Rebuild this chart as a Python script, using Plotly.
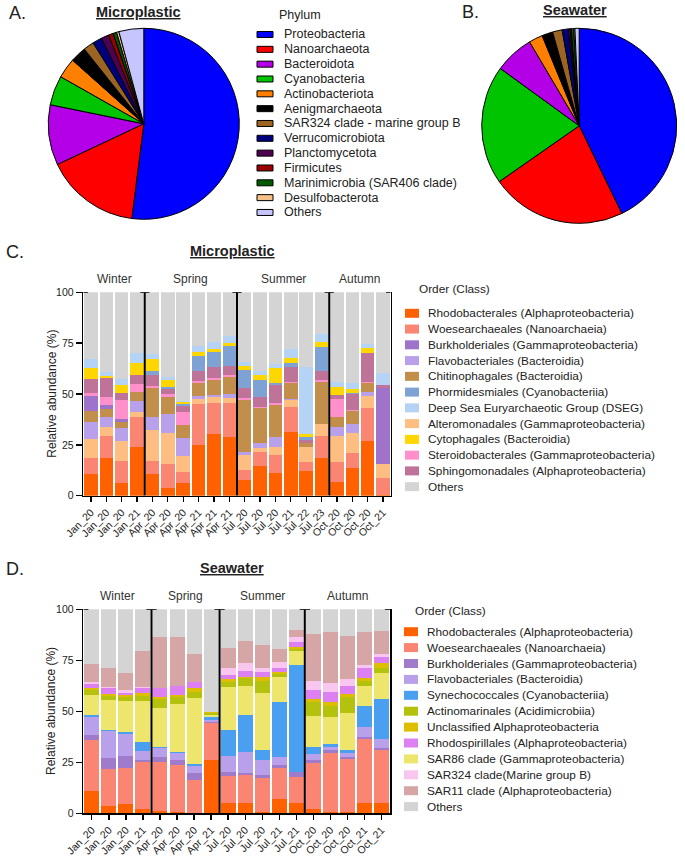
import plotly.graph_objects as go

W, H = 685, 866
FONT = "Liberation Sans, Arial, sans-serif"

# ---------------- Panel A/B: phylum pies ----------------
phyla = ["Proteobacteria", "Nanoarchaeota", "Bacteroidota", "Cyanobacteria",
         "Actinobacteriota", "Aenigmarchaeota", "SAR324 clade - marine group B",
         "Verrucomicrobiota", "Planctomycetota", "Firmicutes",
         "Marinimicrobia (SAR406 clade)", "Desulfobacterota", "Others"]
phylum_colors = ["#0000FF", "#FF0000", "#B400E6", "#00C400", "#FF8000", "#000000",
                 "#9C6422", "#00007F", "#4F0050", "#990000", "#005A00", "#F5C08A", "#C6C6FF"]
pie_microplastic = [52.0, 16.0, 10.2, 5.0, 3.4, 2.7, 1.8, 1.6, 1.3, 0.8, 0.6, 0.4, 4.2]
pie_seawater = [42.8, 22.5, 6.5, 19.7, 2.3, 1.8, 1.6, 1.0, 0.3, 0.2, 0.4, 0.2, 0.7]
# slice order (clockwise from 12 o'clock) used in the seawater pie
seawater_slice_order = ["Proteobacteria", "Nanoarchaeota", "Cyanobacteria", "Bacteroidota",
                        "Actinobacteriota", "Aenigmarchaeota", "SAR324 clade - marine group B",
                        "Verrucomicrobiota", "Planctomycetota", "Firmicutes",
                        "Marinimicrobia (SAR406 clade)", "Desulfobacterota", "Others"]

# ---------------- Panel C: microplastic orders ----------------
seasons = ["Winter", "Spring", "Summer", "Autumn"]
mp_samples = ["Jan_20", "Jan_20", "Jan_20", "Jan_21",
              "Apr_20", "Apr_20", "Apr_20", "Apr_21", "Apr_21", "Apr_21",
              "Jul_20", "Jul_20", "Jul_20", "Jul_21", "Jul_22", "Jul_23",
              "Oct_20", "Oct_20", "Oct_20", "Oct_21"]
mp_season_counts = [4, 6, 6, 4]

mp_rhodobacterales = [10.7, 18.4, 6.0, 23.8, 10.5, 3.9, 6.4, 24.8, 30.2, 28.7, 7.7, 14.8, 11.3, 31.5, 12.3, 18.7, 6.9, 13.4, 27.0, 0.3]
mp_woesearchaeales = [7.7, 10.9, 11.2, 15.1, 6.7, 11.5, 5.1, 20.2, 15.2, 17.0, 4.9, 6.8, 8.7, 12.3, 4.4, 10.8, 9.8, 7.4, 15.9, 8.2]
mp_alteromonadales = [9.6, 4.3, 9.8, 2.1, 15.1, 15.3, 8.2, 2.5, 3.3, 2.5, 7.4, 1.7, 3.8, 3.2, 7.1, 5.7, 12.6, 9.9, 6.3, 7.1]
mp_flavobacteriales = [8.0, 4.9, 6.4, 5.6, 6.6, 9.5, 8.5, 1.5, 0.8, 1.6, 1.6, 2.8, 5.2, 0.4, 0.0, 0.0, 4.6, 4.4, 1.9, 0.0]
mp_chitinophagales = [5.8, 4.0, 3.0, 4.2, 13.9, 8.5, 6.6, 6.5, 7.4, 8.7, 25.4, 16.9, 15.6, 7.8, 2.2, 20.8, 5.0, 6.7, 4.1, 0.0]
mp_burkholderiales = [7.2, 2.1, 1.1, 0.0, 0.0, 0.0, 0.0, 0.0, 0.0, 0.0, 0.0, 0.0, 0.0, 0.0, 0.0, 0.0, 0.0, 0.0, 0.0, 37.2]
mp_steroidobacterales = [1.5, 4.1, 9.5, 4.0, 1.1, 1.3, 6.2, 1.0, 0.8, 0.8, 0.9, 0.8, 1.1, 0.8, 0.0, 0.9, 8.6, 0.5, 0.8, 0.0]
mp_sphingomonadales = [6.9, 9.0, 3.3, 4.5, 5.4, 2.3, 3.3, 5.0, 5.7, 4.5, 4.9, 4.9, 8.7, 7.4, 1.4, 4.4, 2.0, 7.7, 14.3, 1.6]
mp_phormidesmiales = [0.0, 0.0, 0.0, 0.0, 2.2, 1.3, 0.6, 7.0, 7.4, 9.8, 9.0, 8.2, 1.2, 1.7, 1.3, 12.0, 0.0, 0.5, 0.0, 0.0]
mp_cytophagales = [5.2, 1.2, 4.1, 5.8, 5.5, 3.3, 1.0, 2.0, 1.3, 1.3, 2.1, 2.4, 7.0, 2.4, 1.5, 2.1, 3.8, 1.8, 2.2, 0.0]
mp_dseg = [4.6, 1.8, 3.0, 4.9, 2.5, 1.6, 0.8, 3.0, 3.3, 3.8, 2.0, 2.2, 2.0, 4.5, 32.9, 4.1, 2.8, 2.9, 1.9, 5.8]
mp_others = [32.8, 39.3, 42.6, 30.0, 30.5, 41.5, 53.3, 26.5, 24.6, 21.3, 34.1, 38.5, 35.4, 28.0, 36.9, 20.5, 43.9, 44.8, 25.6, 39.8]

mp_legend = ["Rhodobacterales (Alphaproteobacteria)", "Woesearchaeales (Nanoarchaeia)",
             "Burkholderiales (Gammaproteobacteria)", "Flavobacteriales (Bacteroidia)",
             "Chitinophagales (Bacteroidia)", "Phormidesmiales (Cyanobacteriia)",
             "Deep Sea Euryarchaeotic Group (DSEG)", "Alteromonadales (Gammaproteobacteria)",
             "Cytophagales (Bacteroidia)", "Steroidobacterales (Gammaproteobacteria)",
             "Sphingomonadales (Alphaproteobacteria)", "Others"]
mp_colors = ["#FF6000", "#FA8573", "#9E73C9", "#B9A0EB", "#C18E4C", "#7FA2D4",
             "#B5D3F5", "#FEBE82", "#FFD600", "#FF90CC", "#BF7398", "#D4D4D4"]
mp_values = [mp_rhodobacterales, mp_woesearchaeales, mp_burkholderiales, mp_flavobacteriales,
             mp_chitinophagales, mp_phormidesmiales, mp_dseg, mp_alteromonadales,
             mp_cytophagales, mp_steroidobacterales, mp_sphingomonadales, mp_others]
# stacking order bottom -> top (indices into legend list)
mp_stack = [0, 1, 7, 3, 4, 2, 9, 10, 5, 8, 6, 11]

# ---------------- Panel D: seawater orders ----------------
sw_samples = ["Jan_20", "Jan_20", "Jan_20", "Jan_21",
              "Apr_20", "Apr_20", "Apr_20", "Apr_21",
              "Jul_20", "Jul_20", "Jul_20", "Jul_21", "Jul_21",
              "Oct_20", "Oct_20", "Oct_20", "Oct_21", "Oct_21"]
sw_season_counts = [4, 4, 5, 5]

sw_rhodobacterales = [11.0, 3.8, 4.4, 2.1, 1.1, 0.5, 0.0, 26.1, 5.2, 4.9, 0.5, 6.9, 5.2, 2.0, 0.8, 0.5, 5.2, 5.2]
sw_woesearchaeales = [25.0, 17.8, 17.6, 23.2, 24.2, 23.2, 16.3, 18.0, 13.1, 13.9, 16.7, 15.2, 12.8, 22.5, 28.9, 26.0, 31.2, 25.8]
sw_burkholderiales = [2.4, 5.7, 6.3, 0.8, 2.2, 2.4, 3.3, 0.8, 2.1, 1.1, 1.6, 1.6, 2.4, 1.6, 1.3, 1.3, 1.1, 1.0]
sw_flavobacteriales = [9.0, 13.1, 10.6, 4.6, 4.4, 3.3, 3.6, 0.9, 7.7, 10.3, 7.3, 3.8, 0.0, 3.0, 1.7, 1.6, 5.0, 4.3]
sw_synechococcales = [1.0, 0.4, 0.8, 4.4, 0.5, 0.5, 0.8, 1.3, 12.7, 18.0, 4.9, 26.9, 52.3, 3.6, 1.1, 1.6, 10.1, 19.7]
sw_sar86 = [9.6, 14.8, 15.5, 20.1, 19.4, 23.7, 32.4, 1.1, 21.3, 14.2, 28.2, 12.3, 6.9, 15.0, 13.6, 18.0, 9.8, 12.6]
sw_actinomarinales = [2.5, 1.9, 2.0, 2.3, 4.2, 3.3, 3.2, 0.8, 2.4, 3.8, 5.8, 1.4, 1.0, 7.0, 5.2, 8.2, 2.6, 2.8]
sw_unclassified_alpha = [0.8, 0.8, 0.8, 1.3, 1.2, 1.1, 1.7, 0.5, 1.2, 0.8, 2.0, 1.3, 1.1, 1.2, 2.1, 1.3, 1.2, 2.1]
sw_rhodospirillales = [1.9, 3.0, 1.2, 2.5, 4.1, 4.4, 2.9, 0.0, 2.1, 2.9, 2.4, 1.7, 2.5, 4.6, 4.9, 3.9, 4.9, 3.0]
sw_sar324 = [1.2, 0.5, 1.3, 0.8, 0.2, 0.2, 0.3, 0.0, 3.3, 3.6, 2.0, 3.2, 2.1, 4.5, 4.1, 3.3, 1.6, 1.6]
sw_sar11 = [8.6, 9.3, 8.1, 17.5, 24.8, 24.0, 13.6, 0.0, 9.8, 11.0, 11.1, 6.1, 3.6, 22.9, 25.4, 21.2, 16.4, 11.4]
sw_others = [27.0, 28.9, 31.4, 20.4, 13.7, 13.4, 21.9, 50.5, 19.1, 15.5, 17.5, 19.6, 10.1, 12.1, 10.9, 13.1, 10.9, 10.5]

sw_legend = ["Rhodobacterales (Alphaproteobacteria)", "Woesearchaeales (Nanoarchaeia)",
             "Burkholderiales (Gammaproteobacteria)", "Flavobacteriales (Bacteroidia)",
             "Synechococcales (Cyanobacteriia)", "Actinomarinales (Acidimicrobiia)",
             "Unclassified Alphaproteobacteria", "Rhodospirillales (Alphaproteobacteria)",
             "SAR86 clade (Gammaproteobacteria)", "SAR324 clade(Marine group B)",
             "SAR11 clade (Alphaproteobacteria)", "Others"]
sw_colors = ["#FF6000", "#FA8573", "#A07ACB", "#B9A0EB", "#4B9FF0", "#B4C20E",
             "#DDBE00", "#DD80F2", "#EEE66C", "#F8C6EE", "#D6A6A6", "#D4D4D4"]
sw_values = [sw_rhodobacterales, sw_woesearchaeales, sw_burkholderiales, sw_flavobacteriales,
             sw_synechococcales, sw_actinomarinales, sw_unclassified_alpha, sw_rhodospirillales,
             sw_sar86, sw_sar324, sw_sar11, sw_others]
sw_stack = [0, 1, 2, 3, 4, 8, 5, 6, 7, 9, 10, 11]


def px(x):
    return x / W


def py(y):
    return 1 - y / H


fig = go.Figure()

# Pies
fig.add_trace(go.Pie(labels=phyla, values=pie_microplastic, sort=False, direction="clockwise",
                     rotation=0, textinfo="none", showlegend=False, automargin=False,
                     marker=dict(colors=phylum_colors, line=dict(color="black", width=1)),
                     domain=dict(x=[px(48.3), px(239.3)], y=[py(219.3), py(28.3)])))
sw_lookup = dict(zip(phyla, pie_seawater))
col_lookup = dict(zip(phyla, phylum_colors))
fig.add_trace(go.Pie(labels=seawater_slice_order,
                     values=[sw_lookup[p] for p in seawater_slice_order],
                     sort=False, direction="clockwise",
                     rotation=0, textinfo="none", showlegend=False, automargin=False,
                     marker=dict(colors=[col_lookup[p] for p in seawater_slice_order],
                                 line=dict(color="black", width=1)),
                     domain=dict(x=[px(481.7), px(676.7)], y=[py(223.3), py(28.3)])))

# Stacked bars
for k in mp_stack:
    fig.add_trace(go.Bar(x=list(range(len(mp_samples))), y=mp_values[k], name=mp_legend[k],
                         marker=dict(color=mp_colors[k], line=dict(width=0)),
                         xaxis="x", yaxis="y", showlegend=False))
for k in sw_stack:
    fig.add_trace(go.Bar(x=list(range(len(sw_samples))), y=sw_values[k], name=sw_legend[k],
                         marker=dict(color=sw_colors[k], line=dict(width=0)),
                         xaxis="x2", yaxis="y2", showlegend=False))

axis_font = dict(family=FONT, size=10.5, color="#222")


def xaxis_cfg(samples, dom, anchor):
    return dict(domain=dom, anchor=anchor, range=[-0.5, len(samples) - 0.5], tickmode="array",
                tickvals=list(range(len(samples))), ticktext=samples, tickangle=-45,
                ticks="outside", ticklen=5, tickwidth=1.3, tickcolor="black",
                showline=True, linecolor="black", linewidth=1.6, showgrid=False,
                zeroline=False, tickfont=axis_font, automargin=False)


def yaxis_cfg(anchor, dom):
    return dict(domain=dom, anchor=anchor, range=[0, 100], tickvals=[0, 25, 50, 75, 100],
                ticks="outside", ticklen=6, tickwidth=1.3, tickcolor="black",
                showline=True, mirror=True, linecolor="black", linewidth=1.6,
                showgrid=False, zeroline=False, tickfont=axis_font, automargin=False)


layout_shapes = []
annotations = []

# y-axis titles
for ytop, ybot in [(292.3, 495.7), (609.3, 813.3)]:
    annotations.append(dict(text="Relative abundance (%)", xref="paper", yref="paper",
                            x=px(51.7), y=py((ytop + ybot) / 2), textangle=-90, showarrow=False,
                            xanchor="center", yanchor="middle",
                            font=dict(family=FONT, size=12, color="#222")))

# Season separators (with small caps at the top) and season labels
SERIF = 0.3
for xa, ya, counts, ylab in [("x", "y", mp_season_counts, 278.5), ("x2", "y2", sw_season_counts, 596)]:
    start = 0
    total = sum(counts)
    layout_shapes.append(dict(type="line", xref=xa, yref=ya, x0=-0.5, x1=-0.5 + SERIF,
                              y0=100, y1=100, line=dict(color="black", width=1.6)))
    layout_shapes.append(dict(type="line", xref=xa, yref=ya, x0=total - 0.5 - SERIF,
                              x1=total - 0.5, y0=100, y1=100, line=dict(color="black", width=1.6)))
    for i, (s, n) in enumerate(zip(seasons, counts)):
        if i > 0:
            xb = start - 0.5
            layout_shapes.append(dict(type="line", xref=xa, yref=ya, x0=xb, x1=xb,
                                      y0=0, y1=100, line=dict(color="black", width=2)))
            layout_shapes.append(dict(type="line", xref=xa, yref=ya, x0=xb - SERIF, x1=xb + SERIF,
                                      y0=100, y1=100, line=dict(color="black", width=1.6)))
        annotations.append(dict(text=s, xref=xa, yref="paper", x=start + (n - 1) / 2, y=py(ylab),
                                showarrow=False, xanchor="center", yanchor="middle",
                                font=dict(family=FONT, size=12, color="#333")))
        start += n

# Panel letters and titles
for txt, x, y in [("A.", 17, 13), ("B.", 470, 12), ("C.", 15, 252), ("D.", 15, 569)]:
    annotations.append(dict(text=txt, xref="paper", yref="paper", x=px(x), y=py(y), showarrow=False,
                            xanchor="center", yanchor="middle",
                            font=dict(family=FONT, size=18, color="#222")))
for txt, x, y in [("Microplastic", 138, 12), ("Seawater", 575, 10),
                  ("Microplastic", 232, 251), ("Seawater", 232, 568)]:
    annotations.append(dict(text="<b><u>" + txt + "</u></b>", xref="paper", yref="paper",
                            x=px(x), y=py(y), showarrow=False, xanchor="center", yanchor="middle",
                            font=dict(family=FONT, size=14.5, color="#222")))


def manual_legend(title, tx, ty, names, colors, sx0, sx1, sh, textx, y0, dy, size, outline):
    annotations.append(dict(text=title, xref="paper", yref="paper", x=px(tx), y=py(ty),
                            showarrow=False, xanchor="left", yanchor="middle",
                            font=dict(family=FONT, size=size, color="#222")))
    for i, (nm, c) in enumerate(zip(names, colors)):
        yc = y0 + i * dy
        layout_shapes.append(dict(type="rect", xref="paper", yref="paper",
                                  x0=px(sx0), x1=px(sx1), y0=py(yc + sh / 2), y1=py(yc - sh / 2),
                                  fillcolor=c,
                                  line=dict(color="black" if outline else c,
                                            width=1 if outline else 0)))
        annotations.append(dict(text=nm, xref="paper", yref="paper", x=px(textx), y=py(yc),
                                showarrow=False, xanchor="left", yanchor="middle",
                                font=dict(family=FONT, size=size, color="#222")))


manual_legend("Phylum", 277, 15, phyla, phylum_colors, 257, 273, 6, 282, 34.5, 14.83, 12.5, True)
manual_legend("Order (Class)", 417, 289, mp_legend, mp_colors, 405, 419, 9, 426, 313.3, 15.76, 11.8, False)
manual_legend("Order (Class)", 413, 611, sw_legend, sw_colors, 404, 418, 9, 425, 631.7, 15.9, 11.8, False)

fig.update_layout(
    template="none",
    width=W, height=H, margin=dict(l=0, r=0, t=0, b=0, pad=0, autoexpand=False),
    paper_bgcolor="white", plot_bgcolor="white",
    barmode="stack", bargap=0.12,
    font=dict(family=FONT, color="#222"),
    xaxis=xaxis_cfg(mp_samples, [px(83.3), px(390.7)], "y"),
    yaxis=yaxis_cfg("x", [py(495.7), py(292.3)]),
    xaxis2=xaxis_cfg(sw_samples, [px(83.3), px(390)], "y2"),
    yaxis2=yaxis_cfg("x2", [py(813.3), py(609.3)]),
    shapes=layout_shapes, annotations=annotations,
    showlegend=False,
)

# place the figure at the window's top-left corner (no default page margin)
fig.write_html("out.html",
               config={"displayModeBar": False, "staticPlot": True},
               post_script="document.body.style.margin='0px';document.body.style.overflow='hidden';")
